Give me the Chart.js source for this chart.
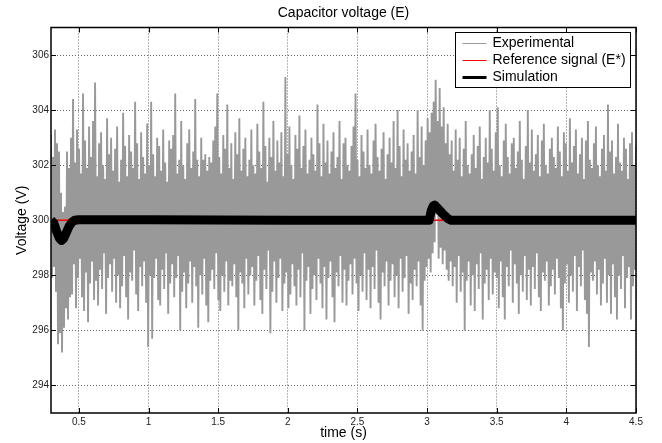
<!DOCTYPE html>
<html>
<head>
<meta charset="utf-8">
<title>Capacitor voltage (E)</title>
<script src="https://cdn.jsdelivr.net/npm/chart.js@4.4.1/dist/chart.umd.min.js"></script>
<style>
  html, body { margin: 0; padding: 0; background: #fff; }
  #wrap { width: 662px; height: 443px; }
</style>
</head>
<body>
<div id="wrap"><canvas id="chart-capacitor" width="662" height="443"></canvas></div>
<script>
// time window of the record (s)
const tStart = 0.3;
const tEnd = 4.5;

// axis ticks
const xTicks = [0.5, 1, 1.5, 2, 2.5, 3, 3.5, 4, 4.5];
const yTicks = [294, 296, 298, 300, 302, 304, 306];

// experimental voltage (V), equally spaced samples from tStart to tEnd
const experimental = [
  303.1, 297.9, 302.3, 298.3, 303.3, 297.4, 302.8, 295.5, 302.5, 295.9, 301.0, 295.2, 300.3, 296.1, 300.5, 296.8, 302.5, 296.4, 301.9, 297.2,
  303.0, 297.3, 304.4, 298.4, 302.1, 296.8, 303.3, 297.9, 302.6, 298.6, 301.7, 297.2, 304.6, 296.7, 302.9, 298.1, 301.9, 296.3, 303.4, 297.7,
  302.3, 298.5, 303.6, 297.1, 305.0, 297.8, 301.6, 296.9, 302.8, 298.2, 303.2, 297.5, 302.0, 298.8, 301.5, 296.6, 303.7, 297.9, 302.4, 298.4,
  303.0, 297.4, 301.8, 298.6, 302.6, 297.0, 303.4, 298.0, 301.4, 296.8, 302.2, 297.6, 303.9, 298.7, 302.7, 297.2, 301.6, 296.4, 303.1, 298.1,
  302.5, 297.8, 301.9, 298.9, 304.3, 297.3, 302.8, 296.7, 301.5, 298.3, 303.2, 297.6, 302.3, 298.5, 301.7, 297.0, 303.5, 295.4, 302.0, 298.0,
  304.3, 295.7, 302.4, 297.9, 301.6, 298.6, 303.0, 297.1, 302.7, 296.9, 301.8, 298.2, 303.3, 297.5, 302.1, 298.8, 301.4, 296.6, 302.9, 297.7,
  302.6, 298.4, 303.1, 297.2, 304.6, 297.9, 301.7, 298.7, 302.2, 296.0, 303.6, 297.4, 302.0, 298.1, 301.5, 296.8, 302.8, 297.7, 303.3, 298.5,
  301.9, 297.0, 302.5, 298.3, 304.4, 297.6, 302.2, 296.1, 301.6, 298.0, 303.0, 297.3, 302.2, 298.6, 302.4, 296.9, 301.8, 296.3, 302.3, 297.8,
  302.1, 298.2, 302.9, 297.5, 303.4, 298.8, 304.6, 297.1, 302.3, 296.7, 301.7, 298.0, 303.1, 297.4, 302.6, 298.5, 304.2, 296.9, 301.9, 297.8,
  302.8, 297.6, 301.5, 298.4, 303.2, 297.2, 302.4, 296.0, 303.7, 298.1, 301.8, 297.7, 302.6, 296.8, 303.0, 298.6, 301.6, 297.3, 302.2, 298.0,
  303.3, 298.3, 302.0, 296.9, 301.7, 297.8, 303.5, 298.7, 302.5, 297.1, 301.9, 296.6, 304.3, 298.2, 302.7, 297.5, 301.4, 298.9, 303.0, 295.9,
  302.3, 297.4, 303.6, 298.5, 301.8, 297.0, 302.9, 297.9, 302.1, 298.6, 303.2, 296.7, 301.6, 297.7, 305.2, 298.1, 302.4, 296.8, 303.4, 297.3,
  302.0, 298.4, 301.5, 297.6, 303.1, 296.9, 302.6, 298.2, 303.8, 297.2, 301.9, 298.8, 302.7, 296.0, 303.3, 297.8, 301.7, 298.3, 302.2, 296.6,
  303.0, 297.5, 302.4, 298.0, 301.8, 297.1, 304.2, 298.6, 302.8, 297.7, 301.6, 296.8, 303.5, 298.3, 302.1, 296.4, 302.9, 297.9, 301.7, 298.5,
  302.5, 297.2, 303.2, 296.3, 301.9, 298.1, 302.3, 297.6, 303.6, 298.7, 301.5, 297.0, 302.8, 298.2, 303.0, 296.9, 302.0, 297.8, 301.8, 298.4,
  302.7, 297.3, 303.4, 298.6, 304.6, 297.7, 302.2, 296.7, 301.6, 298.0, 303.1, 297.4, 302.5, 298.8, 301.9, 297.1, 303.3, 298.2, 302.0, 296.8,
  301.7, 298.3, 302.9, 297.5, 303.5, 298.9, 302.3, 297.0, 301.8, 296.4, 302.6, 298.1, 303.2, 297.6, 301.5, 298.5, 302.4, 296.9, 303.0, 297.8,
  302.1, 298.4, 303.6, 297.2, 301.9, 298.0, 304.0, 296.8, 302.7, 298.6, 301.6, 297.4, 303.3, 297.9, 302.2, 298.7, 302.8, 296.6, 301.8, 297.7,
  302.5, 297.1, 303.1, 298.2, 301.7, 297.6, 304.0, 298.5, 302.3, 296.9, 303.4, 296.0, 302.0, 297.8, 302.9, 298.3, 303.7, 298.6, 303.2, 298.1,
  303.9, 298.8, 304.3, 299.2, 305.1, 300.2, 303.6, 298.6, 304.8, 299.0, 303.4, 298.4, 304.1, 298.9, 302.8, 298.2, 303.5, 297.8, 302.4, 298.5,
  302.9, 297.6, 301.8, 298.3, 303.3, 297.0, 302.2, 298.7, 303.0, 297.4, 301.6, 298.1, 302.6, 296.0, 303.6, 297.8, 302.0, 298.5, 301.7, 296.9,
  302.4, 298.0, 303.1, 296.7, 301.9, 298.4, 302.7, 297.5, 303.4, 298.8, 301.5, 296.4, 302.3, 297.7, 303.0, 298.2, 302.1, 297.1, 304.0, 298.6,
  302.6, 297.3, 301.8, 298.1, 303.2, 297.9, 304.1, 296.8, 302.0, 298.5, 301.6, 297.2, 302.9, 296.4, 303.5, 298.3, 302.3, 297.6, 301.7, 298.9,
  302.8, 297.0, 303.0, 298.4, 301.9, 297.7, 302.5, 296.6, 303.6, 298.0, 302.2, 297.4, 301.5, 298.7, 302.7, 297.1, 304.0, 298.2, 302.1, 296.9,
  303.3, 298.3, 301.8, 297.5, 302.4, 298.8, 303.1, 297.2, 301.6, 296.7, 302.9, 298.1, 303.5, 297.8, 302.0, 298.5, 301.7, 296.9, 302.6, 297.6,
  303.0, 298.2, 302.3, 297.3, 301.9, 298.6, 303.4, 297.9, 302.5, 296.8, 301.6, 296.0, 303.2, 297.7, 302.8, 298.4, 301.8, 297.0, 303.7, 298.0,
  302.1, 297.4, 302.7, 298.7, 303.3, 296.7, 301.7, 298.3, 302.4, 297.6, 303.0, 298.9, 301.5, 297.1, 302.9, 296.6, 303.6, 295.4, 302.2, 298.1,
  301.9, 297.8, 302.8, 298.5, 303.4, 297.3, 302.0, 298.2, 301.6, 296.9, 302.6, 297.7, 303.1, 298.6, 301.8, 297.0, 304.2, 298.0, 302.5, 296.6,
  302.9, 298.4, 301.7, 297.2, 302.3, 296.4, 303.5, 298.0, 302.1, 297.5, 301.8, 298.7, 303.0, 296.8, 302.6, 297.9, 301.5, 298.3, 302.8, 296.4,
  303.2, 297.6, 302.0, 298.2, 302.7
];

// reference signal E* (V)
const refTime = [0.3, 4.5];
const refVoltage = [300, 300];

// simulated voltage (V)
const simTime = [0.30, 0.32, 0.34, 0.36, 0.375, 0.39, 0.41, 0.43, 0.45, 0.47, 0.50,
  1.0, 2.0, 3.0, 3.015, 3.03, 3.045, 3.055, 3.07, 3.09, 3.11, 3.13, 3.15, 3.17, 3.5, 4.0, 4.5];
const simVoltage = [300.0, 299.9, 299.6, 299.35, 299.27, 299.33, 299.55, 299.78, 299.93, 300.0, 300.02,
  300.02, 300.0, 300.0, 300.0, 300.35, 300.52, 300.55, 300.47, 300.36, 300.25, 300.15, 300.06, 300.0, 300.0, 300.0, 300.0];

const expPoints = experimental.map((v, i) => ({
  x: tStart + i * (tEnd - tStart) / (experimental.length - 1),
  y: v
}));
const refPoints = refTime.map((t, i) => ({ x: t, y: refVoltage[i] }));
const simPoints = simTime.map((t, i) => ({ x: t, y: simVoltage[i] }));

Chart.defaults.font.family = '"Liberation Sans", Arial, Helvetica, sans-serif';

// box around the axes, inward tick marks and the boxed legend (matlab look)
const matlabFrame = {
  id: 'matlabFrame',
  afterDatasetsDraw(chart) {
    const { ctx, chartArea: a, scales } = chart;
    ctx.save();
    ctx.strokeStyle = '#000';
    ctx.lineWidth = 1.5;
    ctx.strokeRect(a.left, a.top, a.right - a.left, a.bottom - a.top);

    ctx.lineWidth = 1;
    ctx.beginPath();
    xTicks.forEach(v => {
      const x = Math.round(scales.x.getPixelForValue(v)) + 0.5;
      ctx.moveTo(x, a.bottom); ctx.lineTo(x, a.bottom - 5);
      ctx.moveTo(x, a.top); ctx.lineTo(x, a.top + 5);
    });
    yTicks.forEach(v => {
      const y = Math.round(scales.y.getPixelForValue(v)) + 0.5;
      ctx.moveTo(a.left, y); ctx.lineTo(a.left + 5, y);
      ctx.moveTo(a.right, y); ctx.lineTo(a.right - 5, y);
    });
    ctx.stroke();

    // legend
    ctx.font = '14px "Liberation Sans", Arial, sans-serif';
    const items = chart.data.datasets;
    const textW = Math.max(...items.map(d => ctx.measureText(d.label).width));
    const boxW = Math.round(7 + 24 + 6 + textW + 5);
    const boxH = 55;
    const bx = Math.round(a.right - 6 - boxW) + 0.5;
    const by = Math.round(a.top + 4) + 0.5;
    ctx.fillStyle = '#fff';
    ctx.fillRect(bx, by, boxW, boxH);
    ctx.strokeStyle = '#000';
    ctx.strokeRect(bx, by, boxW, boxH);
    ctx.textBaseline = 'middle';
    ctx.textAlign = 'left';
    items.forEach((d, i) => {
      const y = by + 11 + i * 17;
      ctx.strokeStyle = d.borderColor;
      ctx.lineWidth = d.swatchWidth;
      ctx.beginPath();
      ctx.moveTo(bx + 7, y);
      ctx.lineTo(bx + 31, y);
      ctx.stroke();
      ctx.fillStyle = '#000';
      ctx.fillText(d.label, bx + 37, y);
    });
    ctx.restore();
  }
};

new Chart(document.getElementById('chart-capacitor'), {
  type: 'line',
  data: {
    datasets: [
      {
        label: 'Experimental',
        data: expPoints,
        borderColor: '#999999',
        borderWidth: 1.9,
        swatchWidth: 1,
        pointRadius: 0,
        tension: 0,
        clip: 0,
        order: 3,
        xAxisID: 'x',
        yAxisID: 'y'
      },
      {
        label: 'Reference signal (E*)',
        data: refPoints,
        borderColor: '#ff0000',
        borderWidth: 1.5,
        swatchWidth: 1,
        pointRadius: 0,
        clip: 0,
        order: 2,
        xAxisID: 'x',
        yAxisID: 'y'
      },
      {
        label: 'Simulation',
        data: simPoints,
        borderColor: '#000000',
        borderWidth: 9,
        swatchWidth: 3,
        borderJoinStyle: 'round',
        pointRadius: 0,
        tension: 0,
        clip: 0,
        order: 1,
        xAxisID: 'x',
        yAxisID: 'y'
      }
    ]
  },
  options: {
    responsive: false,
    animation: false,
    events: [],
    layout: { padding: { left: 0, right: 26, top: 0, bottom: 0 } },
    plugins: {
      legend: { display: false },
      tooltip: { enabled: false },
      title: { display: false }
    },
    scales: {
      x: {
        type: 'linear',
        position: 'bottom',
        min: tStart,
        max: tEnd,
        afterBuildTicks: s => { s.ticks = xTicks.map(v => ({ value: v })); },
        afterFit: s => { s.height = 30; },
        grid: { color: '#666', lineWidth: 1, drawTicks: false },
        border: { display: false, dash: [1, 2] },
        ticks: {
          padding: 3,
          color: '#222',
          font: { size: 10 },
          maxRotation: 0,
          autoSkip: false,
          callback: v => String(v)
        },
        title: {
          display: true,
          text: 'time (s)',
          color: '#000',
          font: { size: 14 },
          padding: { top: 0, bottom: 1.5 }
        }
      },
      xTop: {
        type: 'linear',
        axis: 'x',
        position: 'top',
        min: tStart,
        max: tEnd,
        afterFit: s => { s.height = 27.5; },
        grid: { display: false },
        border: { display: false },
        ticks: { display: false },
        title: {
          display: true,
          text: 'Capacitor voltage (E)',
          color: '#000',
          font: { size: 14 },
          padding: { top: 5.2, bottom: 0 }
        }
      },
      y: {
        type: 'linear',
        position: 'left',
        min: 293,
        max: 307,
        afterBuildTicks: s => { s.ticks = yTicks.map(v => ({ value: v })); },
        afterFit: s => { s.width = 51; },
        grid: { color: '#666', lineWidth: 1, drawTicks: false },
        border: { display: false, dash: [1, 2] },
        ticks: { padding: 2, color: '#222', font: { size: 10 } },
        title: {
          display: true,
          text: 'Voltage (V)',
          color: '#000',
          font: { size: 14 },
          padding: { top: 13.4, bottom: 0 }
        }
      }
    }
  },
  plugins: [matlabFrame]
});
</script>
</body>
</html>
